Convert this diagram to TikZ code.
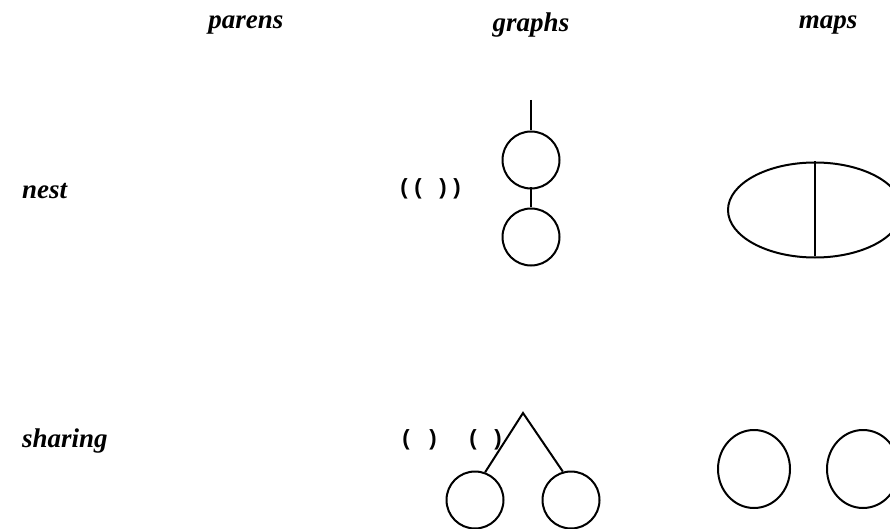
\documentclass[tikz,border=0pt]{standalone}
\usepackage{fontspec}
\setmainfont{Liberation Serif}
\newfontfamily\parenfont{Liberation Sans}
\usetikzlibrary{shapes.geometric}
\begin{document}
\begin{tikzpicture}[x=1pt,y=-1pt,
  lab/.style={font=\fontsize{27}{30}\selectfont\bfseries\itshape, inner sep=0pt},
  par/.style={font=\parenfont\fontsize{22}{24}\selectfont\bfseries, inner sep=0pt},
  gcirc/.style={draw, circle, line width=2pt, minimum size=57pt, inner sep=0pt},
  mcirc/.style={draw, ellipse, line width=2pt, minimum width=72pt, minimum height=78pt, inner sep=0pt},
  edge/.style={line width=2pt}]
\clip (0,0) rectangle (890,529);
\fill[white] (0,0) rectangle (890,529);
% headers
\node[lab] (hparens) at (246,25) {parens};
\node[lab] (hgraphs) at (531,25) {graphs};
\node[lab] (hmaps) at (828,25) {maps};
% row labels
\node[lab, anchor=west] (rnest) at (22,191) {nest};
\node[lab, anchor=west] (rshare) at (22,441) {sharing};
% parens
\node[par] (p1) at (404,189) {(};
\node[par] (p2) at (418,189) {(};
\node[par] (p3) at (443,189) {)};
\node[par] (p4) at (457,189) {)};
\node[par] (q1) at (406,440) {(};
\node[par] (q2) at (433,440) {)};
\node[par] (q3) at (473,440) {(};
\node[par] (q4) at (498,440) {)};
% graph nest
\coordinate (gtop) at (531,100);
\node[gcirc] (g1) at (531,160) {};
\node[gcirc] (g2) at (531,237) {};
\draw[edge] (gtop) -- (g1.north);
\draw[edge] ([yshift=2]g1.south) -- (g2.north);
% map nest
\node[draw, ellipse, line width=2pt, minimum width=174pt, minimum height=95pt, inner sep=0pt] (e) at (815,210) {};
\draw[edge] (e.north) -- ([yshift=3]e.south);
% graph sharing
\coordinate (apex) at (523,413);
\node[gcirc] (g3) at (475,500) {};
\node[gcirc] (g4) at (571,500) {};
\draw[edge] (g3.70) -- (apex) -- (g4.106);
% map sharing
\node[mcirc] (m1) at (754,469) {};
\node[mcirc] (m2) at (863,469) {};
\end{tikzpicture}
\end{document}
